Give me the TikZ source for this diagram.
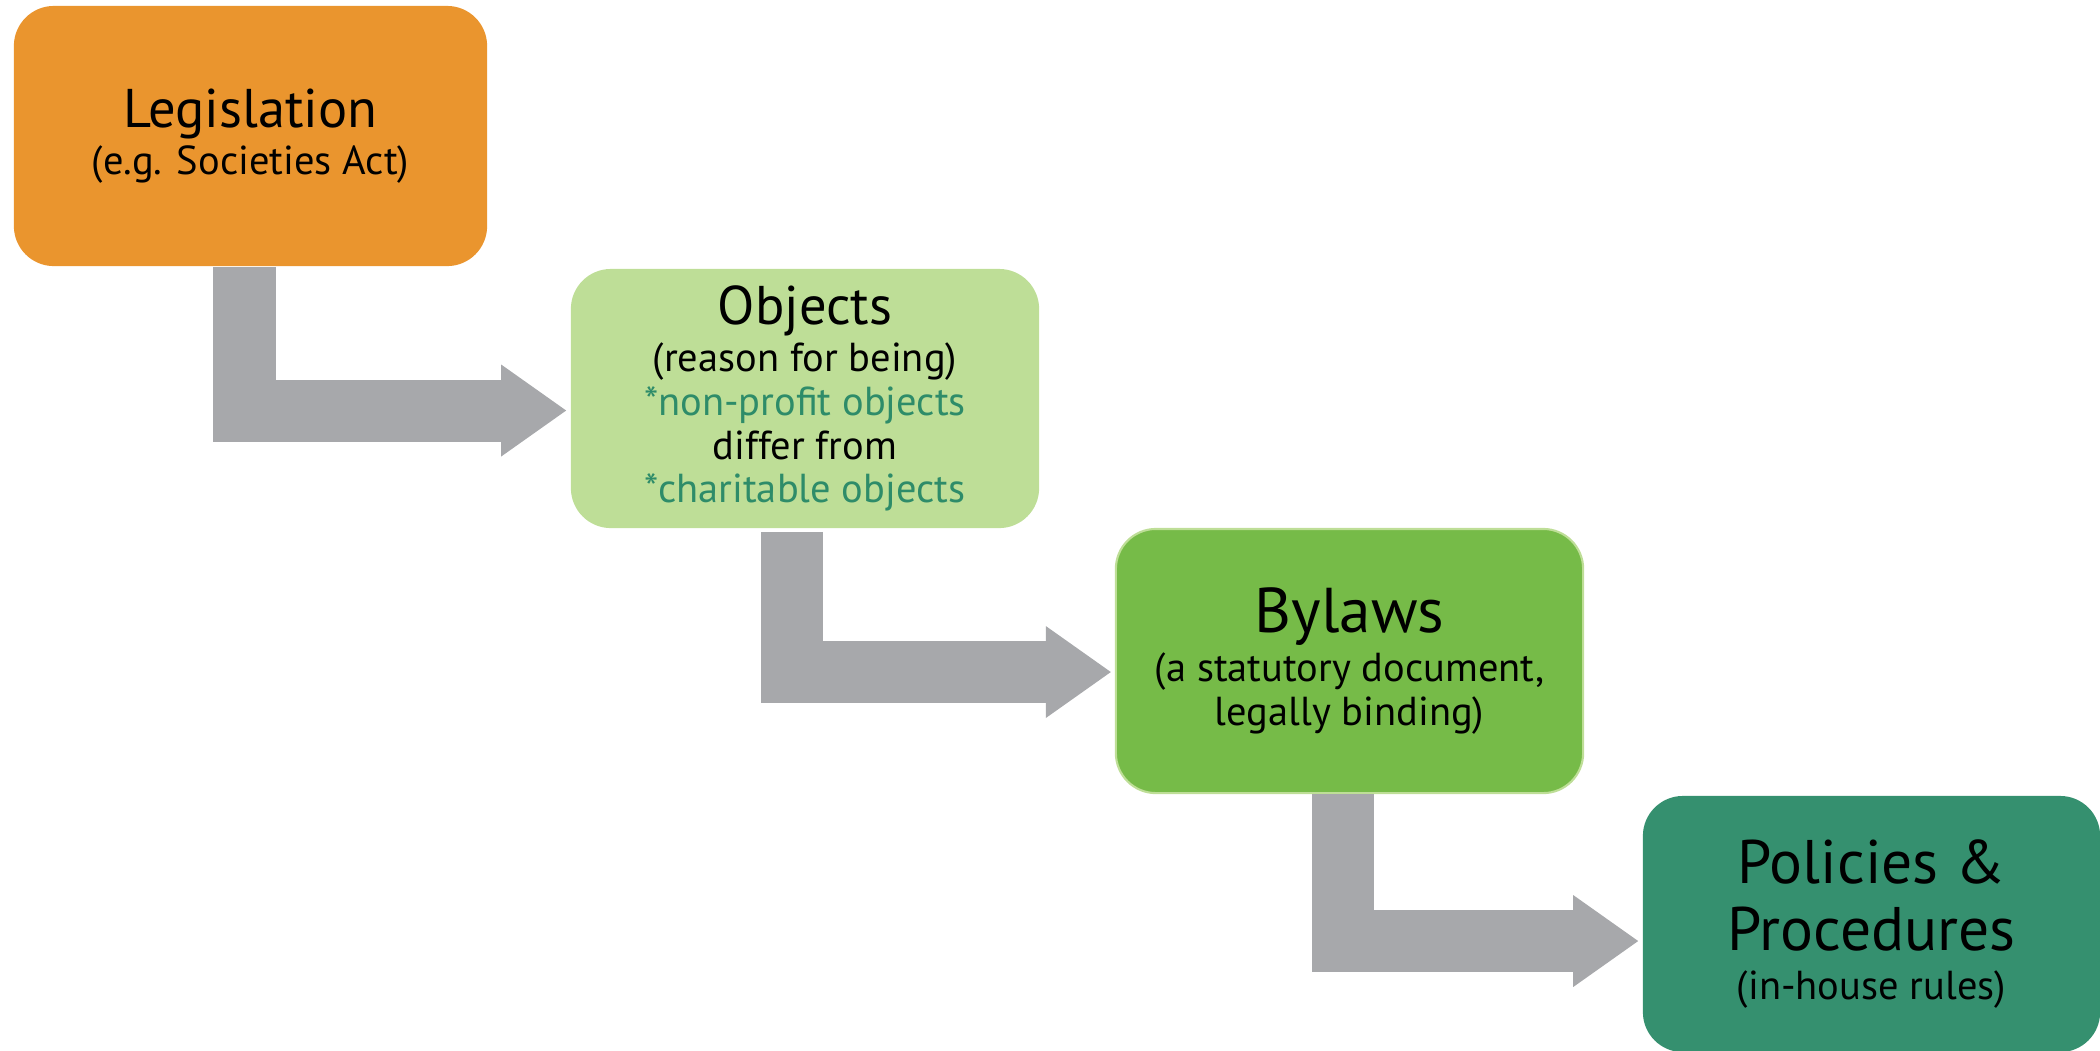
\documentclass[tikz,border=0pt]{standalone}
\usepackage{fontspec}
\setmainfont{PT Sans}
\usetikzlibrary{arrows.meta}

\definecolor{legorange}{RGB}{234,149,46}
\definecolor{objgreen}{RGB}{190,222,151}
\definecolor{bylgreen}{RGB}{118,187,72}
\definecolor{polgreen}{RGB}{53,144,111}
\definecolor{arrowgray}{RGB}{167,168,171}
\definecolor{tealtext}{RGB}{46,140,105}

\newcommand{\titlesize}{\fontsize{15.5}{19}\selectfont}
\newcommand{\bigtitlesize}{\fontsize{18}{20}\selectfont}
\newcommand{\poltitlesize}{\fontsize{17.5}{20}\selectfont}
\newcommand{\subsize}{\fontsize{11.5}{12.4}\selectfont}

\begin{document}
\begin{tikzpicture}[x=0.01cm,y=-0.01cm,
        box/.style={rounded corners=0.4cm, inner sep=0pt, align=center, font=\subsize},
        flow/.style={draw=arrowgray, line width=0.62cm,
            -{Triangle[width=0.92cm,length=0.65cm,line width=0pt]}, shorten >=0.04cm}]
        \useasboundingbox (0,0) rectangle (2100,1050);

        % 四个方框
        \node[box, fill=legorange, minimum width=4.73cm, minimum height=2.6cm] (leg) at (250.5,136)
            {{\titlesize Legislation}\\[1pt] (e.g. Societies Act)};
        \node[box, fill=objgreen, minimum width=4.68cm, minimum height=2.59cm] (obj) at (805,398.5)
            {{\titlesize Objects}\\[1pt] (reason for being)\\ \textcolor{tealtext}{*non-profit objects}\\
             differ from\\ \textcolor{tealtext}{*charitable objects}};
        \node[box, fill=bylgreen, draw=objgreen, line width=0.6pt, minimum width=4.67cm, minimum height=2.64cm] (byl) at (1349.5,661)
            {{\bigtitlesize Bylaws}\\[1.5pt] (a statutory document,\\ legally binding)};
        \node[box, fill=polgreen, minimum width=4.57cm, minimum height=2.56cm] (pol) at (1871.5,924)
            {{\poltitlesize Policies \&}\\[5.5pt] {\poltitlesize Procedures}\\[1.5pt] (in-house rules)};

        % 折线箭头
        \draw[flow] ([xshift=-0.06cm]leg.south) |- ([yshift=-0.12cm]obj.west);
        \draw[flow] ([xshift=-0.13cm,yshift=-0.03cm]obj.south) |- ([yshift=-0.11cm]byl.west);
        \draw[flow] ([xshift=-0.065cm]byl.south) |- ([yshift=-0.17cm]pol.west);

\end{tikzpicture}
\end{document}
